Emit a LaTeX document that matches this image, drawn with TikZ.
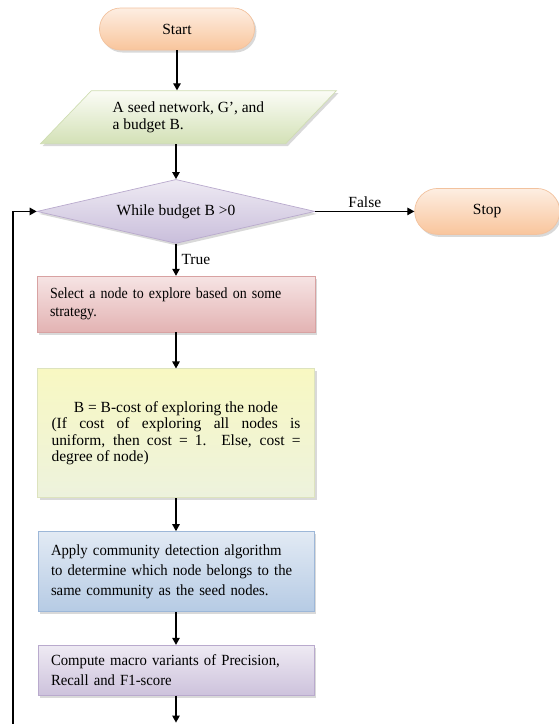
\documentclass[tikz,border=0pt]{standalone}
\usepackage{fontspec}
\setmainfont{Liberation Serif}
\newfontfamily\tightA{Liberation Serif}[FakeStretch=0.9, WordSpace=0.7]
\newfontfamily\tightB{Liberation Serif}[FakeStretch=0.95, WordSpace=0.8]
\usepackage{xcolor}
\usepackage{tikz}
\usetikzlibrary{arrows.meta,positioning,shapes.geometric,shadows}
\definecolor{pillTop}{HTML}{FDEEE2}
\definecolor{pillBot}{HTML}{F9C59C}
\definecolor{pillLine}{HTML}{F2C29E}
\definecolor{ioTop}{HTML}{FBFCF6}
\definecolor{ioBot}{HTML}{D3E1B6}
\definecolor{ioLine}{HTML}{CFDDB2}
\definecolor{decTop}{HTML}{EEEAF3}
\definecolor{decBot}{HTML}{C9BEDB}
\definecolor{decLine}{HTML}{B9AACD}
\definecolor{selTop}{HTML}{F6E4E4}
\definecolor{selBot}{HTML}{E3B3B3}
\definecolor{selLine}{HTML}{D8A2A2}
\definecolor{costTop}{HTML}{F8F8C2}
\definecolor{costBot}{HTML}{EDF2DD}
\definecolor{costLine}{HTML}{DDE3BE}
\definecolor{detTop}{HTML}{E2EAF4}
\definecolor{detBot}{HTML}{B6CBE4}
\definecolor{detLine}{HTML}{9DB7D8}
\definecolor{metTop}{HTML}{EEEAF3}
\definecolor{metBot}{HTML}{CDC2DC}
\definecolor{metLine}{HTML}{B9AACD}
\tikzset{
  flowbase/.style={line width=0.7pt, font=\fontsize{15.5}{18}\selectfont, drop shadow={shadow xshift=2pt, shadow yshift=-2.5pt, opacity=0.3}},
  flowpill/.style={flowbase, rectangle, rounded corners=21pt, draw=pillLine, top color=pillTop, bottom color=pillBot, minimum width=155pt, minimum height=42pt},
  flowio/.style={flowbase, trapezium, trapezium left angle=42, trapezium right angle=138, trapezium stretches=true, draw=ioLine, top color=ioTop, bottom color=ioBot, align=left, minimum width=297pt, minimum height=53pt, font=\fontsize{15.5}{16.5}\selectfont},
  flowdec/.style={flowbase, diamond, aspect=4.3, inner sep=0pt, draw=decLine, top color=decTop, bottom color=decBot, minimum width=278pt, minimum height=64pt},
  flowsel/.style={flowbase, rectangle, draw=selLine, top color=selTop, bottom color=selBot, align=left, text width=252pt, inner xsep=13pt, minimum height=56pt, font=\fontsize{15.5}{18}\tightA},
  flowcost/.style={flowbase, rectangle, draw=costLine, top color=costTop, bottom color=costBot, align=justify, text width=249pt, inner xsep=14pt, minimum height=129pt, font=\fontsize{15.5}{16.5}\selectfont},
  flowdet/.style={flowbase, rectangle, draw=detLine, top color=detTop, bottom color=detBot, align=left, text width=250pt, inner xsep=13pt, minimum height=80pt, font=\fontsize{15.5}{20}\tightB},
  flowmet/.style={flowbase, rectangle, draw=metLine, top color=metTop, bottom color=metBot, align=left, text width=250pt, inner xsep=13pt, minimum height=50pt, font=\fontsize{15.5}{20}\tightB},
  flowlabel/.style={font=\fontsize{15.5}{18}\selectfont, inner sep=2pt},
  flowarrow/.style={-{Triangle[length=7pt,width=7.5pt]}, line width=1.1pt}
}

\begin{document}
\begin{tikzpicture}
\useasboundingbox (0,0) rectangle (559pt,-724pt);
\node[flowpill] (start) at (177pt,-29pt) {Start};
\node[flowio, below=40pt of start, xshift=11.5pt] (seed) {A seed network, G', and\\a budget B.};
\node[flowdec, below=35pt of seed, xshift=-12.5pt] (loop) {While budget B >0};
\node[flowpill, right=99pt of loop, minimum width=145pt, minimum height=46pt, rounded corners=23pt] (stop) {Stop};
\node[flowsel, below=32pt of loop] (select) {Select a node to explore based on some\\strategy.};
\node[flowcost, below=36pt of select] (cost) {{\centering B = B-cost of exploring the node\par}(If cost of exploring all nodes is\linebreak uniform, then cost = 1. Else, cost =\linebreak degree of node)};
\node[flowdet, below=33pt of cost] (detect) {Apply community detection algorithm\\to determine which node belongs to the\\same community as the seed nodes.};
\node[flowmet, below=33pt of detect] (metric) {Compute macro variants of Precision,\\Recall and F1-score};
\coordinate[below=27pt of metric] (tail);
\coordinate (back) at (13pt,-724pt);
\draw[flowarrow] (start) -- (start |- seed.north);
\draw[flowarrow] (loop |- seed.south) -- (loop);
\draw[flowarrow] (loop) -- node[flowlabel, right=3pt] {True} (select);
\draw[flowarrow] (loop) -- node[flowlabel, above=1pt] {False} (stop);
\draw[flowarrow] (select) -- (cost);
\draw[flowarrow] (cost) -- (detect);
\draw[flowarrow] (detect) -- (metric);
\draw[flowarrow] (metric) -- (tail);
\draw[line width=1.1pt, -{Triangle[length=7pt,width=7.5pt]}] (back) |- (loop);
\end{tikzpicture}
\end{document}
